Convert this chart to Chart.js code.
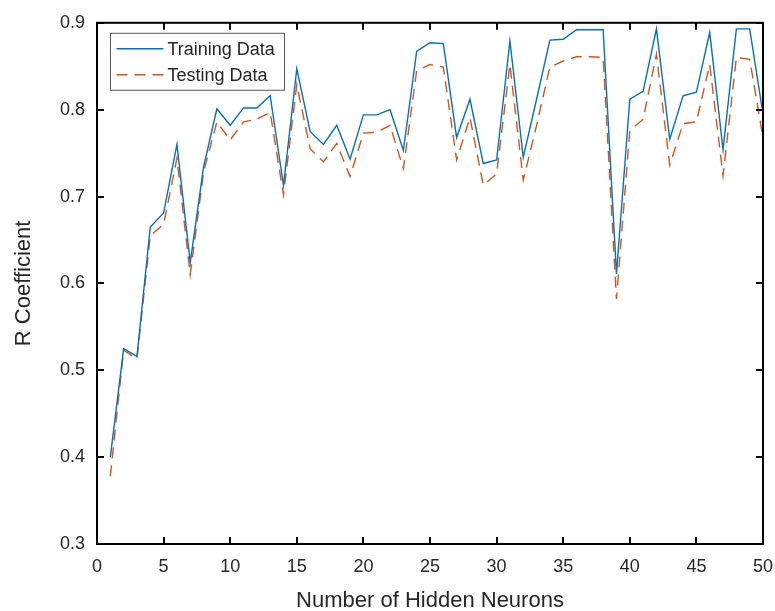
<!DOCTYPE html>
<html>
<head>
<meta charset="utf-8">
<script src="https://cdn.jsdelivr.net/npm/chart.js@4/dist/chart.umd.min.js"></script>
<style>
  html, body { margin: 0; padding: 0; background: #fff; }
  #wrap { width: 775px; height: 611px; }
</style>
</head>
<body>
<div id="wrap"><canvas id="c" width="775" height="611"></canvas></div>
<script>
// Hidden-layer size tried for the network
const neurons = [1, 2, 3, 4, 5, 6, 7, 8, 9, 10,
                 11, 12, 13, 14, 15, 16, 17, 18, 19, 20,
                 21, 22, 23, 24, 25, 26, 27, 28, 29, 30,
                 31, 32, 33, 34, 35, 36, 37, 38, 39, 40,
                 41, 42, 43, 44, 45, 46, 47, 48, 49, 50];

// Correlation coefficient R on the training set
const trainingR = [0.400, 0.525, 0.516, 0.665, 0.681, 0.760, 0.624, 0.734, 0.801, 0.782,
                   0.802, 0.802, 0.816, 0.713, 0.847, 0.775, 0.760, 0.782, 0.743, 0.794,
                   0.794, 0.800, 0.753, 0.867, 0.877, 0.876, 0.768, 0.812, 0.738, 0.742,
                   0.879, 0.745, 0.812, 0.880, 0.881, 0.892, 0.892, 0.892, 0.611, 0.812,
                   0.821, 0.893, 0.766, 0.816, 0.820, 0.889, 0.754, 0.893, 0.893, 0.795];

// Correlation coefficient R on the testing set
const testingR = [0.378, 0.523, 0.513, 0.655, 0.668, 0.744, 0.610, 0.728, 0.786, 0.765,
                  0.786, 0.789, 0.797, 0.702, 0.829, 0.755, 0.740, 0.761, 0.723, 0.773,
                  0.774, 0.782, 0.732, 0.845, 0.852, 0.849, 0.742, 0.791, 0.713, 0.726,
                  0.852, 0.719, 0.782, 0.849, 0.856, 0.861, 0.861, 0.860, 0.582, 0.776,
                  0.789, 0.864, 0.736, 0.784, 0.786, 0.852, 0.724, 0.860, 0.858, 0.768];

const seriesNames = ['Training Data', 'Testing Data'];
const xTicks = [0, 5, 10, 15, 20, 25, 30, 35, 40, 45, 50];
const yTicks = [0.3, 0.4, 0.5, 0.6, 0.7, 0.8, 0.9];

const FONT = '"Liberation Sans", Arial, Helvetica, sans-serif';
const BLUE = '#0072BD';
const ORANGE = '#D95319';

const toPoints = (ys) => neurons.map((n, i) => ({ x: n, y: ys[i] }));

// Boxed axes with inward ticks on all four sides
const frameTicks = {
  id: 'frameTicks',
  afterDatasetsDraw(chart) {
    const { ctx, chartArea: a, scales: { x, y } } = chart;
    const len = 7;
    ctx.save();
    ctx.strokeStyle = '#000';
    ctx.lineWidth = 2;
    ctx.beginPath();
    xTicks.forEach(v => {
      const px = Math.round(x.getPixelForValue(v));
      ctx.moveTo(px, a.bottom); ctx.lineTo(px, a.bottom - len);
      ctx.moveTo(px, a.top); ctx.lineTo(px, a.top + len);
    });
    yTicks.forEach(v => {
      const py = Math.round(y.getPixelForValue(v));
      ctx.moveTo(a.left, py); ctx.lineTo(a.left + len, py);
      ctx.moveTo(a.right, py); ctx.lineTo(a.right - len, py);
    });
    ctx.stroke();
    ctx.strokeRect(a.left, a.top, a.right - a.left, a.bottom - a.top);
    ctx.restore();
  }
};

// Legend box in the upper-left corner of the plot
const boxLegend = {
  id: 'boxLegend',
  afterDraw(chart) {
    const { ctx, chartArea: a } = chart;
    const left = a.left + 13.5, top = a.top + 10.5, w = 174, h = 57;
    ctx.save();
    ctx.fillStyle = '#fff';
    ctx.fillRect(left, top, w, h);
    ctx.strokeStyle = '#595959';
    ctx.lineWidth = 1;
    ctx.strokeRect(left, top, w, h);
    ctx.font = '18px ' + FONT;
    ctx.fillStyle = '#262626';
    ctx.textBaseline = 'middle';
    chart.data.datasets.forEach((ds, i) => {
      const cy = top + 15.5 + i * 26;
      ctx.strokeStyle = ds.borderColor;
      ctx.lineWidth = ds.borderWidth;
      ctx.setLineDash(ds.borderDash || []);
      ctx.beginPath();
      ctx.moveTo(left + 6, cy);
      ctx.lineTo(left + 53, cy);
      ctx.stroke();
      ctx.setLineDash([]);
      ctx.fillText(ds.label, left + 57, cy + 1);
    });
    ctx.restore();
  }
};

new Chart(document.getElementById('c'), {
  type: 'line',
  data: {
    datasets: [
      {
        label: seriesNames[0],
        data: toPoints(trainingR),
        borderColor: BLUE,
        borderWidth: 1.4,
        pointRadius: 0,
        tension: 0,
        fill: false
      },
      {
        label: seriesNames[1],
        data: toPoints(testingR),
        borderColor: ORANGE,
        borderWidth: 1.4,
        borderDash: [11, 7],
        pointRadius: 0,
        tension: 0,
        fill: false
      }
    ]
  },
  options: {
    responsive: false,
    animation: false,
    devicePixelRatio: 1,
    layout: { padding: { top: 20, right: 12, left: 0, bottom: 0 } },
    plugins: {
      legend: { display: false },
      tooltip: { enabled: false }
    },
    scales: {
      x: {
        type: 'linear',
        min: 0,
        max: 50,
        afterBuildTicks: (s) => { s.ticks = xTicks.map(v => ({ value: v })); },
        afterFit: (s) => { s.height = 67; s.paddingLeft = 0; s.paddingRight = 0; },
        grid: { display: false, drawTicks: false },
        border: { display: false },
        ticks: {
          padding: 12,
          color: '#262626',
          font: { family: FONT, size: 18 },
          maxRotation: 0,
          callback: (v) => String(v)
        },
        title: {
          display: true,
          text: 'Number of Hidden Neurons',
          color: '#262626',
          font: { family: FONT, size: 22 },
          padding: { top: 0, bottom: -3 }
        }
      },
      y: {
        type: 'linear',
        min: 0.3,
        max: 0.9,
        afterBuildTicks: (s) => { s.ticks = yTicks.map(v => ({ value: v })); },
        afterFit: (s) => { s.width = 97; },
        grid: { display: false, drawTicks: false },
        border: { display: false },
        ticks: {
          padding: 12,
          color: '#262626',
          font: { family: FONT, size: 18 },
          callback: (v) => Number(v).toFixed(1)
        },
        title: {
          display: true,
          text: 'R Coefficient',
          color: '#262626',
          font: { family: FONT, size: 22 },
          padding: { top: 11, bottom: 0 }
        }
      }
    }
  },
  plugins: [frameTicks, boxLegend]
});
</script>
</body>
</html>
